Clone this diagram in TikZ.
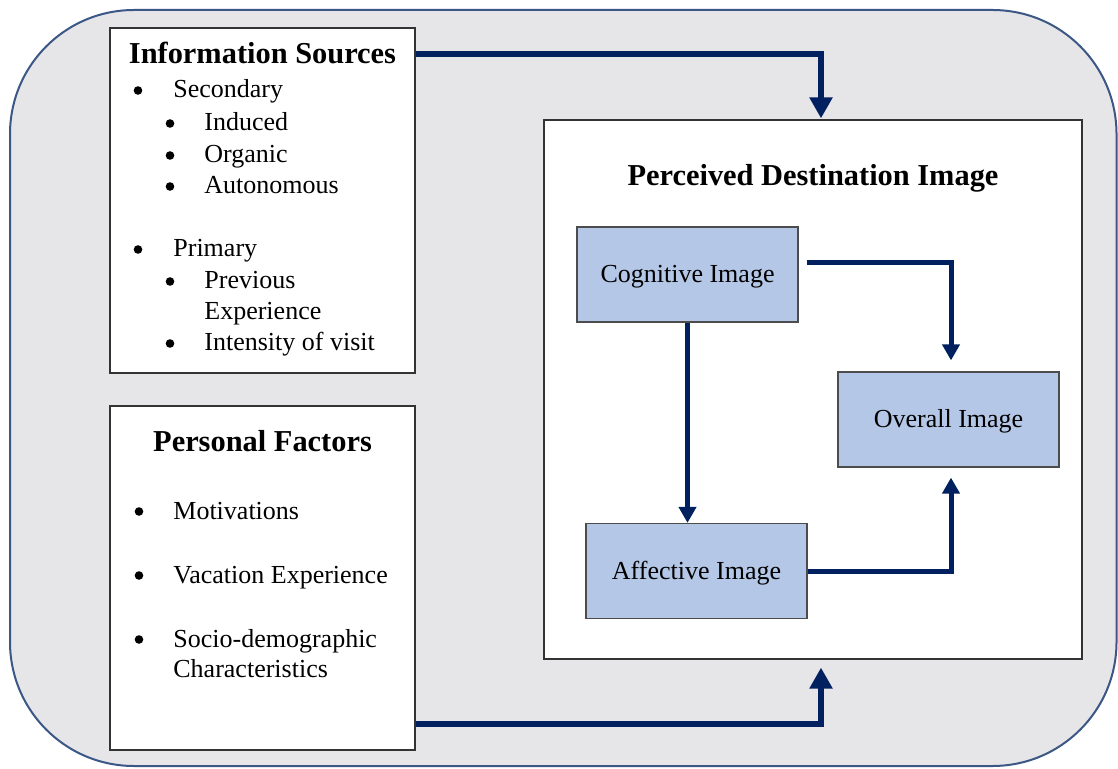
\documentclass[tikz,border=0pt]{standalone}
\usepackage{fontspec}
\setmainfont{Liberation Serif}
\usetikzlibrary{arrows.meta}

\definecolor{navy}{HTML}{002060}
\definecolor{boxblue}{HTML}{B4C7E7}
\definecolor{panelgray}{HTML}{E6E5E7}
\definecolor{rimblue}{HTML}{3B5785}

\tikzset{
  whitebox/.style={draw=black!80,fill=white,line width=0.6pt,inner sep=0pt},
  imagebox/.style={draw=black!70,fill=boxblue,line width=0.6pt,inner sep=0pt,
    minimum width=110.5pt,minimum height=47.5pt,text height=10pt,text depth=1.5pt,
    font=\fontsize{13}{15}\selectfont},
  boxtitle/.style={font=\fontsize{15.2}{18}\selectfont\bfseries,anchor=base,inner sep=0pt},
  item/.style={font=\fontsize{13}{15}\selectfont,anchor=base west,inner sep=0pt},
  dot/.style={circle,fill=black,inner sep=0pt,minimum size=4.3pt},
  bigflow/.style={draw=navy,line width=3pt,-{Triangle[length=10.5pt,width=11pt]}},
  flow/.style={draw=navy,line width=2.5pt,-{Triangle[length=8pt,width=8.5pt]}}
}

\begin{document}
\begin{tikzpicture}[x=0.5pt,y=-0.5pt]
  \useasboundingbox[fill=white] (0,0) rectangle (1118,769);

  % rounded grey panel behind everything
  \draw[rimblue,fill=panelgray,line width=1pt,rounded corners=62pt] (10,10) rectangle (1116.5,766);

  % the three big boxes
  \node[whitebox,minimum width=152.5pt,minimum height=172.5pt] (info) at (262.5,200.5) {};
  \node[whitebox,minimum width=152.5pt,minimum height=172pt] (personal) at (262.5,578) {};
  \node[whitebox,minimum width=269pt,minimum height=269.5pt] (pdi) at (813,389.5) {};

  % titles
  \node[boxtitle] (infotitle) at (262.5,64) {Information Sources};
  \node[boxtitle] (perstitle) at (262.5,452) {Personal Factors};
  \node[boxtitle] (pdititle) at (813,186) {Perceived Destination Image};

  % information sources list
  \foreach \bx/\tx/\by/\txt [count=\i] in {
    138/173/98/Secondary,
    170/204/131/Induced,
    170/204/163/Organic,
    170/204/194/Autonomous,
    138/173/257/Primary,
    170/204/289/Previous,
    170/204/351/Intensity of visit
  }
  {
    \node[dot] (infodot\i) at (\bx,\by-7.5) {};
    \node[item] (infoitem\i) at (\tx,\by) {\txt};
  }
  \node[item] (infoexp) at (204,320) {Experience};

  % personal factors list
  \foreach \by/\txt [count=\i] in {519/Motivations, 583/Vacation Experience, 647/Socio-demographic}
  {
    \node[dot] (persdot\i) at (139,\by-7.5) {};
    \node[item] (persitem\i) at (173,\by) {\txt};
  }
  \node[item] (perschar) at (173,677) {Characteristics};

  % image components
  \node[imagebox] (cog) at (687.5,274.5) {Cognitive Image};
  \node[imagebox] (overall) at (948.5,419.5) {Overall Image};
  \node[imagebox] (aff) at (696.5,571) {Affective Image};

  % flows into the destination image
  \draw[bigflow,shorten >=0.5pt] ([yshift=-13.5pt]info.north east) -| ([xshift=4pt]pdi.north);
  \draw[bigflow,shorten >=4pt] ([yshift=13.5pt]personal.south east) -| ([xshift=4pt]pdi.south);

  % flows between the image components
  \draw[flow] (cog) -- (cog |- aff.north);
  \draw[flow,shorten >=5.5pt] ([xshift=4pt,yshift=5.75pt]cog.east) -| ([xshift=1.25pt]overall.north);
  \draw[flow,shorten >=5pt] (aff.east) -| ([xshift=1.25pt]overall.south);
\end{tikzpicture}
\end{document}
